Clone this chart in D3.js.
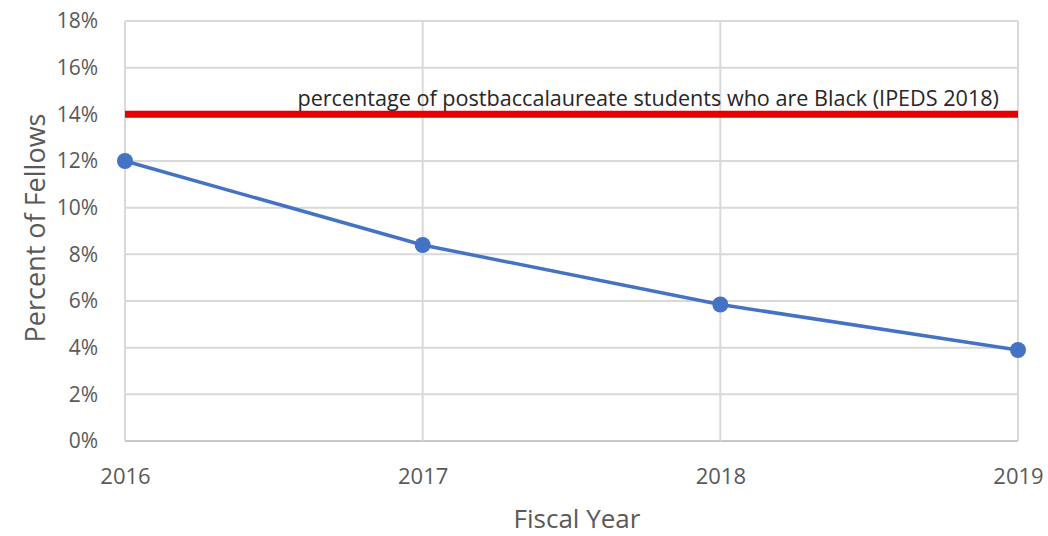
<!DOCTYPE html>
<html><head><meta charset="utf-8">
<script src="https://cdn.jsdelivr.net/npm/d3@7"></script>
<style>body{margin:0;background:#fff}</style>
</head><body>
<svg id="c" width="1048" height="536"></svg>
<script>
const years = ["2016","2017","2018","2019"];
const percentFellows = [12.0, 8.4, 5.85, 3.9];
const referenceValue = 14;
const referenceLabel = "percentage of postbaccalaureate students who are Black (IPEDS 2018)";
const yTicks = [0,2,4,6,8,10,12,14,16,18];
const xTitle = "Fiscal Year";
const yTitle = "Percent of Fellows";

const svg = d3.select("#c");
const W = 1048, H = 536;
const m = {l:125, r:W-1018, t:21, b:H-441};
const x = d3.scalePoint().domain(years).range([m.l, W-m.r]);
const y = d3.scaleLinear().domain([0,18]).range([H-m.b, m.t]);
const font = "'Open Sans', sans-serif";

// horizontal grid
svg.append("g").selectAll("line").data(yTicks).join("line")
  .attr("x1", m.l).attr("x2", W-m.r)
  .attr("y1", d=>y(d)).attr("y2", d=>y(d))
  .attr("stroke", d=> d===0 ? "#c8c8c8" : "#d9d9d9").attr("stroke-width", 2);
// vertical grid
svg.append("g").selectAll("line").data(years).join("line")
  .attr("x1", d=>x(d)).attr("x2", d=>x(d))
  .attr("y1", y(18)).attr("y2", y(0))
  .attr("stroke", "#d9d9d9").attr("stroke-width", 2);

// y axis labels
const yAxis = d3.axisLeft(y).tickValues(yTicks).tickFormat(d=>d+"%").tickSize(0).tickPadding(27);
const ga = svg.append("g").attr("transform", `translate(${m.l},0)`).call(yAxis);
ga.select(".domain").remove();
ga.selectAll("text").attr("font-family", font).attr("font-size", 21).attr("fill", "#595959");

// x axis labels
const xAxis = d3.axisBottom(x).tickSize(0).tickPadding(27);
const gx = svg.append("g").attr("transform", `translate(0,${y(0)})`).call(xAxis);
gx.select(".domain").remove();
gx.selectAll("text").attr("font-family", font).attr("font-size", 22).attr("fill", "#595959");

// reference line
svg.append("line").attr("x1", m.l).attr("x2", W-m.r)
  .attr("y1", y(referenceValue)).attr("y2", y(referenceValue))
  .attr("stroke", "#e60000").attr("stroke-width", 7);
const ann = svg.append("text").attr("x", 999).attr("y", y(referenceValue)-8)
  .attr("text-anchor","end").attr("font-family", font).attr("font-size", 19)
  .attr("fill", "#262626").text(referenceLabel);
const wNow = ann.node().getComputedTextLength();
ann.attr("font-size", 19 * 702 / wNow);

// series
const pts = years.map((yr,i)=>({yr, v: percentFellows[i]}));
svg.append("path").datum(pts)
  .attr("d", d3.line().x(d=>x(d.yr)).y(d=>y(d.v)))
  .attr("fill","none").attr("stroke","#4472c4").attr("stroke-width",3.5);
svg.append("g").selectAll("circle").data(pts).join("circle")
  .attr("cx", d=>x(d.yr)).attr("cy", d=>y(d.v)).attr("r", 8)
  .attr("fill","#4472c4");

// titles
svg.append("text").attr("x", 577).attr("y", 528).attr("text-anchor","middle")
  .attr("font-family", font).attr("font-size", 26).attr("fill","#595959").text(xTitle);
svg.append("text").attr("transform", `translate(45,228) rotate(-90)`).attr("text-anchor","middle")
  .attr("font-family", font).attr("font-size", 27).attr("fill","#595959").text(yTitle);
</script>
</body></html>
